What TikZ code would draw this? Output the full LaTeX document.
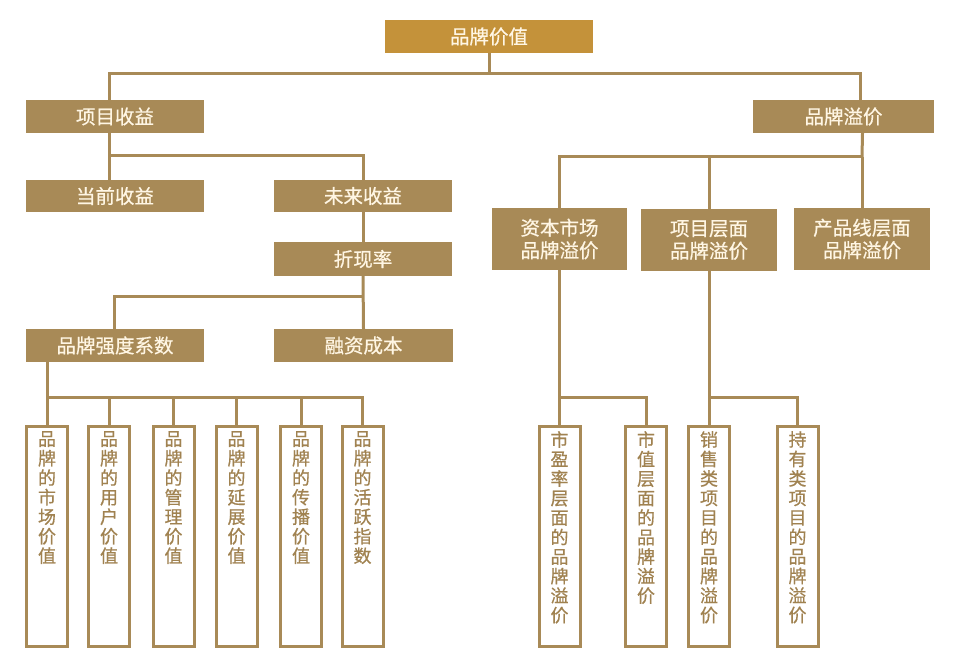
\documentclass[tikz,border=0pt]{standalone}
\usepackage{fontspec}
\setmainfont{Noto Sans CJK SC}
\newfontfamily\med{Noto Sans CJK SC}[FakeBold=0.6]
\definecolor{tan}{RGB}{168,138,87}
\definecolor{gold}{RGB}{196,146,58}
\definecolor{cream}{RGB}{255,246,228}
\definecolor{vtxt}{RGB}{160,130,80}
\tikzset{
  hbox/.style={fill=tan, draw=none, text=cream, inner sep=0pt, font=\fontsize{19.5}{22.5}\med, align=center},
  vbox/.style={draw=tan, line width=3pt, fill=white, minimum width=41pt, minimum height=220pt, inner sep=0pt},
  vtext/.style={text=vtxt, inner sep=0pt, align=center, anchor=north, font=\fontsize{18}{19.5}\med},
  conn/.style={draw=tan, line width=3pt}
}
\begin{document}
\begin{tikzpicture}[x=1pt,y=-1pt]
\useasboundingbox (0,0) rectangle (956,671);
% top levels
\node[hbox, fill=gold, minimum width=208pt, minimum height=33pt] (top) at (489,36.5) {品牌价值};
\node[hbox, minimum width=178pt, minimum height=33pt] (xm) at (115,116.5) {项目收益};
\node[hbox, minimum width=181pt, minimum height=33pt] (pp) at (843.5,116.5) {品牌溢价};
\node[hbox, minimum width=178pt, minimum height=32pt] (dq) at (115,196) {当前收益};
\node[hbox, minimum width=178pt, minimum height=32pt] (wl) at (363,196) {未来收益};
\node[hbox, minimum width=178pt, minimum height=34pt] (zx) at (363,259) {折现率};
\node[hbox, minimum width=178pt, minimum height=33pt] (qd) at (115,345.5) {品牌强度系数};
\node[hbox, minimum width=179pt, minimum height=33pt] (rz) at (363.5,345.5) {融资成本};
\node[hbox, minimum width=135pt, minimum height=62pt] (zb) at (559.5,239) {资本市场\\品牌溢价};
\node[hbox, minimum width=136pt, minimum height=62pt] (xc) at (709,240) {项目层面\\品牌溢价};
\node[hbox, minimum width=136pt, minimum height=62pt] (cp) at (862,239) {产品线层面\\品牌溢价};
% bus coordinates
\coordinate (b1) at (489,74);
\coordinate (b2) at (109,156);
\coordinate (b3) at (363,296);
\coordinate (b4) at (47,397);
\coordinate (b5) at (862,157);
\coordinate (b6) at (559.5,397);
\coordinate (b7) at (709,397);
% vertical boxes left
\foreach \i/\x in {1/47,2/109,3/173.5,4/236.5,5/301,6/362.5}
  \node[vbox] (v\i) at (\x,536.5) {};
% vertical boxes right
\foreach \i/\x in {1/559.5,2/646,3/709,4/797.5}
  \node[vbox] (r\i) at (\x,536.5) {};
% connectors
\draw[conn] (top.south) -- (b1);
\draw[conn] ([xshift=-6pt]xm.north) |- (b1) -| ([xshift=17pt]pp.north);
\draw[conn] ([xshift=-6pt]xm.south) -- ([xshift=-6pt]dq.north);
\draw[conn] (b2) -| (wl.north);
\draw[conn] (wl.south) -- (zx.north);
\draw[conn] (zx.south) -- (rz.north);
\draw[conn] (qd.north -| 114,0) |- (b3);
\draw[conn] (qd.south -| v1.north) -- (v1.north);
\foreach \i in {2,...,6}
  \draw[conn] (b4) -| (v\i.north);
\draw[conn] ([xshift=19pt]pp.south) -- (b5);
\draw[conn] (zb.north) |- (b5);
\draw[conn] (xc.north) -- (xc.north |- b5);
\draw[conn] (b5) -- (cp.north);
\draw[conn] (zb.south) -- (r1.north);
\draw[conn] (b6) -| (r2.north);
\draw[conn] (xc.south) -- (r3.north);
\draw[conn] (b7) -| (r4.north);
% vertical texts
\node[vtext] (t1) at ([yshift=-6pt]v1.north) {品\\牌\\的\\市\\场\\价\\值};
\node[vtext] (t2) at ([yshift=-6pt]v2.north) {品\\牌\\的\\用\\户\\价\\值};
\node[vtext] (t3) at ([yshift=-6pt]v3.north) {品\\牌\\的\\管\\理\\价\\值};
\node[vtext] (t4) at ([yshift=-6pt]v4.north) {品\\牌\\的\\延\\展\\价\\值};
\node[vtext] (t5) at ([yshift=-6pt]v5.north) {品\\牌\\的\\传\\播\\价\\值};
\node[vtext] (t6) at ([yshift=-6pt]v6.north) {品\\牌\\的\\活\\跃\\指\\数};
\node[vtext] (s1) at ([yshift=-6pt]r1.north) {市\\盈\\率\\层\\面\\的\\品\\牌\\溢\\价};
\node[vtext] (s2) at ([yshift=-6pt]r2.north) {市\\值\\层\\面\\的\\品\\牌\\溢\\价};
\node[vtext] (s3) at ([yshift=-6pt]r3.north) {销\\售\\类\\项\\目\\的\\品\\牌\\溢\\价};
\node[vtext] (s4) at ([yshift=-6pt]r4.north) {持\\有\\类\\项\\目\\的\\品\\牌\\溢\\价};
\end{tikzpicture}
\end{document}
